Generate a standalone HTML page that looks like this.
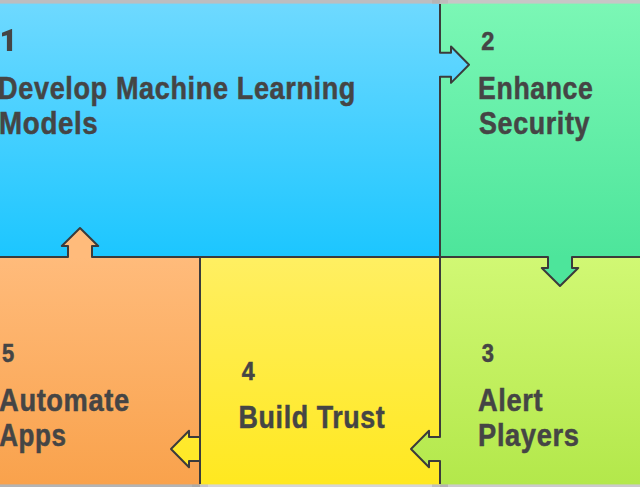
<!DOCTYPE html>
<html><head><meta charset="utf-8">
<style>
html,body{margin:0;padding:0;width:640px;height:487px;overflow:hidden;background:#c0c0c0}
svg{display:block}
text{font-family:"Liberation Sans",sans-serif;font-weight:bold;fill:#454545;stroke:#454545;stroke-width:0.5px;letter-spacing:0.7px}
</style></head><body>
<svg width="640" height="487" viewBox="0 0 640 487">
<defs>
<linearGradient id="g1" gradientUnits="userSpaceOnUse" x1="0" y1="4" x2="0" y2="257"><stop offset="0" stop-color="#6ed9ff"/><stop offset="1" stop-color="#1cc6ff"/></linearGradient>
<linearGradient id="g2" gradientUnits="userSpaceOnUse" x1="0" y1="4" x2="0" y2="257"><stop offset="0" stop-color="#7bf7b5"/><stop offset="1" stop-color="#4de59b"/></linearGradient>
<linearGradient id="g3" gradientUnits="userSpaceOnUse" x1="0" y1="257" x2="0" y2="484"><stop offset="0" stop-color="#d1f874"/><stop offset="1" stop-color="#b3e84b"/></linearGradient>
<linearGradient id="g4" gradientUnits="userSpaceOnUse" x1="0" y1="257" x2="0" y2="484"><stop offset="0" stop-color="#ffef62"/><stop offset="1" stop-color="#ffe820"/></linearGradient>
<linearGradient id="g5" gradientUnits="userSpaceOnUse" x1="0" y1="257" x2="0" y2="484"><stop offset="0" stop-color="#ffbb7b"/><stop offset="1" stop-color="#f9a24c"/></linearGradient>
</defs>
<rect x="0" y="0" width="440" height="257" fill="url(#g1)"/>
<rect x="440" y="0" width="200" height="257" fill="url(#g2)"/>
<rect x="440" y="257" width="200" height="230" fill="url(#g3)"/>
<rect x="200" y="257" width="240" height="230" fill="url(#g4)"/>
<rect x="0" y="257" width="200" height="230" fill="url(#g5)"/>
<rect x="0" y="0" width="440" height="3.6" fill="#bdbdc0"/>
<rect x="440" y="0" width="200" height="3.6" fill="#c8c6c6"/>
<rect x="432" y="0" width="8" height="3.6" fill="#b6b3b3"/>
<rect x="440" y="0" width="8" height="3.6" fill="#bfbcbc"/>
<rect x="0" y="484.4" width="192" height="2.6" fill="#b4b4b4"/>
<rect x="192" y="484.4" width="8" height="2.6" fill="#a9a9a9"/>
<rect x="200" y="484.4" width="8" height="2.6" fill="#c6c6c9"/>
<rect x="208" y="484.4" width="224" height="2.6" fill="#d6d6d6"/>
<rect x="432" y="484.4" width="8" height="2.6" fill="#bebebe"/>
<rect x="440" y="484.4" width="8" height="2.6" fill="#b3b3b3"/>
<rect x="448" y="484.4" width="192" height="2.6" fill="#cbcbcb"/>
<g stroke="#3b3b3b" stroke-width="2" fill="none" stroke-linejoin="miter">
<!-- dividers -->
<path d="M440 4V484M0 257H640M200 257V484"/>
</g>
<polygon points="438,52.7 451,52.7 451,46.5 469,64.7 451,82.9 451,76.7 438,76.7" fill="url(#g1)"/>
<polyline points="440,4 440,52.7 451,52.7 451,46.5 469,64.7 451,82.9 451,76.7 440,76.7 440,257" stroke="#3b3b3b" stroke-width="2" stroke-linejoin="round" fill="none"/>
<polygon points="548,255 548,268 541.8,268 560,286 578.2,268 572,268 572,255" fill="url(#g2)"/>
<polyline points="440,257 548,257 548,268 541.8,268 560,286 578.2,268 572,268 572,257 641,257" stroke="#3b3b3b" stroke-width="2" stroke-linejoin="round" fill="none"/>
<polygon points="442,437 429,437 429,430.8 411,449 429,467.2 429,461 442,461" fill="url(#g3)"/>
<polyline points="440,257 440,437 429,437 429,430.8 411,449 429,467.2 429,461 440,461 440,484" stroke="#3b3b3b" stroke-width="2" stroke-linejoin="round" fill="none"/>
<polygon points="200,437 189,437 189,430.8 171,449 189,467.2 189,461 200,461" fill="url(#g4)" stroke="#3b3b3b" stroke-width="2" stroke-linejoin="round"/>
<path d="M200 257V484" stroke="#3b3b3b" stroke-width="2" stroke-linejoin="round" fill="none"/>
<polygon points="68,259 68,246 61.8,246 80,228 98.2,246 92,246 92,259" fill="url(#g5)"/>
<polyline points="-1,257 68,257 68,246 61.8,246 80,228 98.2,246 92,246 92,257 440,257" stroke="#3b3b3b" stroke-width="2" stroke-linejoin="round" fill="none"/>

<path d="M12.1 29V50.9H6.9V35.2L2 36.6V32.7L11.5 29Z" fill="#454545"/>
<text transform="translate(-1.88,98.7) scale(0.8739,1)" font-size="31">Develop Machine Learning</text>
<text transform="translate(-0.89,134.2) scale(0.8949,1)" font-size="31">Models</text>
<text transform="translate(481.35,49.6) scale(0.9449,1)" font-size="25">2</text>
<text transform="translate(478.11,98.8) scale(0.8609,1)" font-size="31">Enhance</text>
<text transform="translate(479.07,134.2) scale(0.8679,1)" font-size="31">Security</text>
<text transform="translate(481.85,361.5) scale(0.8753,1)" font-size="25">3</text>
<text transform="translate(478.06,410.5) scale(0.8793,1)" font-size="31">Alert</text>
<text transform="translate(478.09,446.4) scale(0.8799,1)" font-size="31">Players</text>
<text transform="translate(241.70,379.6) scale(0.9286,1)" font-size="25">4</text>
<text transform="translate(238.60,428.3) scale(0.8661,1)" font-size="31">Build Trust</text>
<text transform="translate(1.95,361.5) scale(0.8773,1)" font-size="25">5</text>
<text transform="translate(-0.88,410.5) scale(0.8792,1)" font-size="31">Automate</text>
<text transform="translate(-0.84,446.2) scale(0.8393,1)" font-size="31">Apps</text>
</svg>
</body></html>
